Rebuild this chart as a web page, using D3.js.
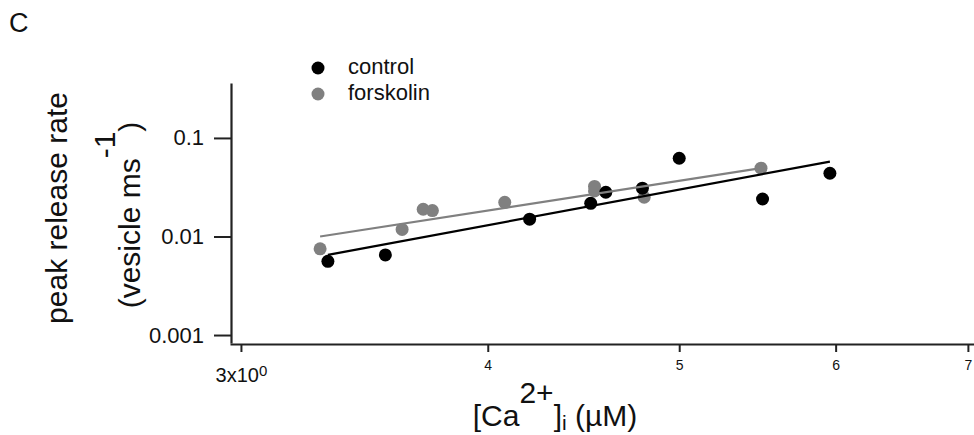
<!DOCTYPE html>
<html>
<head>
<meta charset="utf-8">
<script src="https://cdn.jsdelivr.net/npm/d3@7"></script>
<style>
  body { margin: 0; background: #fff; }
  text { font-family: "Liberation Sans", Arial, sans-serif; fill: #111; }
</style>
</head>
<body>
<svg></svg>
<script>
// data
var controlX = [3.32, 3.55, 4.20, 4.51, 4.59, 4.79, 5.00, 5.51, 5.96];
var controlY = [0.0056, 0.0065, 0.0150, 0.0217, 0.0281, 0.0309, 0.0622, 0.0240, 0.0438];
var forskolinX = [3.29, 3.62, 3.71, 3.75, 4.08, 4.53, 4.53, 4.80, 5.50];
var forskolinY = [0.0075, 0.0118, 0.0189, 0.0183, 0.0222, 0.0322, 0.0290, 0.0250, 0.0493];
// fitted lines (end points)
var controlFitX = [3.32, 5.96];
var controlFitY = [0.0065, 0.0575];
var forskolinFitX = [3.29, 5.50];
var forskolinFitY = [0.0100, 0.0493];

var xTicks = [3, 4, 5, 6, 7];
var yTicks = [0.001, 0.01, 0.1];
var seriesNames = ["control", "forskolin"];
var seriesColors = ["#000000", "#808080"];

var screen = { width: 974, height: 435 };

var svg = d3.select("svg")
  .attr("width", screen.width)
  .attr("height", screen.height);

var xScale = d3.scaleLog().domain([2.962, 7.05]).range([230, 974]);
var yScale = d3.scaleLog().domain([0.00083, 0.361]).range([343, 83]);

//axes
var xAxis = d3.axisBottom(xScale)
  .tickValues(xTicks)
  .tickSize(8)
  .tickSizeOuter(0)
  .tickPadding(8)
  .tickFormat(function(d) { return d; });

var gx = svg.append("g").classed("xAxis", true)
  .attr("transform", "translate(0," + 344 + ")")
  .call(xAxis);
gx.select(".domain").attr("stroke", "#222").attr("stroke-width", 2.2);
gx.selectAll(".tick line").attr("stroke", "#222").attr("stroke-width", 2);
gx.selectAll(".tick text")
  .style("font-size", "14px")
  .attr("fill", "#111");
// first tick written as 3x10^0
gx.selectAll(".tick text").filter(function(d) { return d == 3; })
  .text(null)
  .attr("dy", 22)
  .style("font-size", "20px")
  .call(function(t) {
    t.append("tspan").text("3x10");
    t.append("tspan").text("0").attr("dy", -6).style("font-size", "15px");
  });

var yAxis = d3.axisLeft(yScale)
  .tickValues(yTicks)
  .tickSize(17)
  .tickSizeOuter(0)
  .tickPadding(10)
  .tickFormat(function(d) { return d; });

var gy = svg.append("g").classed("yAxis", true)
  .attr("transform", "translate(" + 231 + ",0)")
  .call(yAxis);
gy.select(".domain").attr("stroke", "#222").attr("stroke-width", 2.2);
gy.selectAll(".tick line").attr("stroke", "#222").attr("stroke-width", 2);
gy.selectAll(".tick text")
  .style("font-size", "22px")
  .attr("fill", "#111");

//points
var plot = svg.append("g").classed("plot", true);

var series = [
  { name: "forskolin", xs: forskolinX, ys: forskolinY, fx: forskolinFitX, fy: forskolinFitY, color: seriesColors[1] },
  { name: "control", xs: controlX, ys: controlY, fx: controlFitX, fy: controlFitY, color: seriesColors[0] }
];

series.forEach(function(s) {
  plot.append("g")
    .attr("fill", s.color)
    .selectAll("circle")
    .data(s.xs)
    .enter()
    .append("circle")
    .attr("r", 6.5)
    .attr("cx", function(d) { return xScale(d); })
    .attr("cy", function(d, i) { return yScale(s.ys[i]); });
});

series.forEach(function(s) {
  plot.append("line")
    .attr("x1", xScale(s.fx[0]))
    .attr("y1", yScale(s.fy[0]))
    .attr("x2", xScale(s.fx[1]))
    .attr("y2", yScale(s.fy[1]))
    .attr("stroke", s.color)
    .attr("stroke-width", 2.2);
});

//legend
var legend = svg.append("g")
  .classed("legend", true)
  .attr("transform", "translate(318,68)");

var legendLines = legend.selectAll("g")
  .data(seriesNames)
  .enter()
  .append("g")
  .attr("transform", function(d, i) { return "translate(0," + i * 26 + ")"; });

legendLines.append("circle")
  .attr("r", 6.5)
  .attr("fill", function(d, i) { return seriesColors[i]; });

legendLines.append("text")
  .attr("x", 30)
  .attr("y", 6)
  .style("font-size", "22px")
  .text(function(d) { return d; });

//panel letter
svg.append("text")
  .attr("x", 9)
  .attr("y", 32)
  .style("font-size", "27px")
  .text("C");

//axis titles
var xTitle = svg.append("text")
  .attr("x", 555)
  .attr("y", 426)
  .attr("text-anchor", "middle")
  .style("font-size", "30px");
xTitle.append("tspan").text("[Ca");
xTitle.append("tspan").text("2+").attr("dy", -23);
xTitle.append("tspan").text("]").attr("dy", 23);
xTitle.append("tspan").text("i").attr("dy", 4).style("font-size", "21px");
xTitle.append("tspan").text(" (µM)").attr("dy", -4);

svg.append("text")
  .attr("transform", "translate(67,208) rotate(-90)")
  .attr("text-anchor", "middle")
  .style("font-size", "30px")
  .text("peak release rate");

var yTitle2 = svg.append("text")
  .attr("transform", "translate(140,215) rotate(-90)")
  .attr("text-anchor", "middle")
  .style("font-size", "30px");
yTitle2.append("tspan").text("(vesicle ms");
yTitle2.append("tspan").text("-1").attr("dy", -25);
yTitle2.append("tspan").text(")").attr("dy", 25);
</script>
</body>
</html>
